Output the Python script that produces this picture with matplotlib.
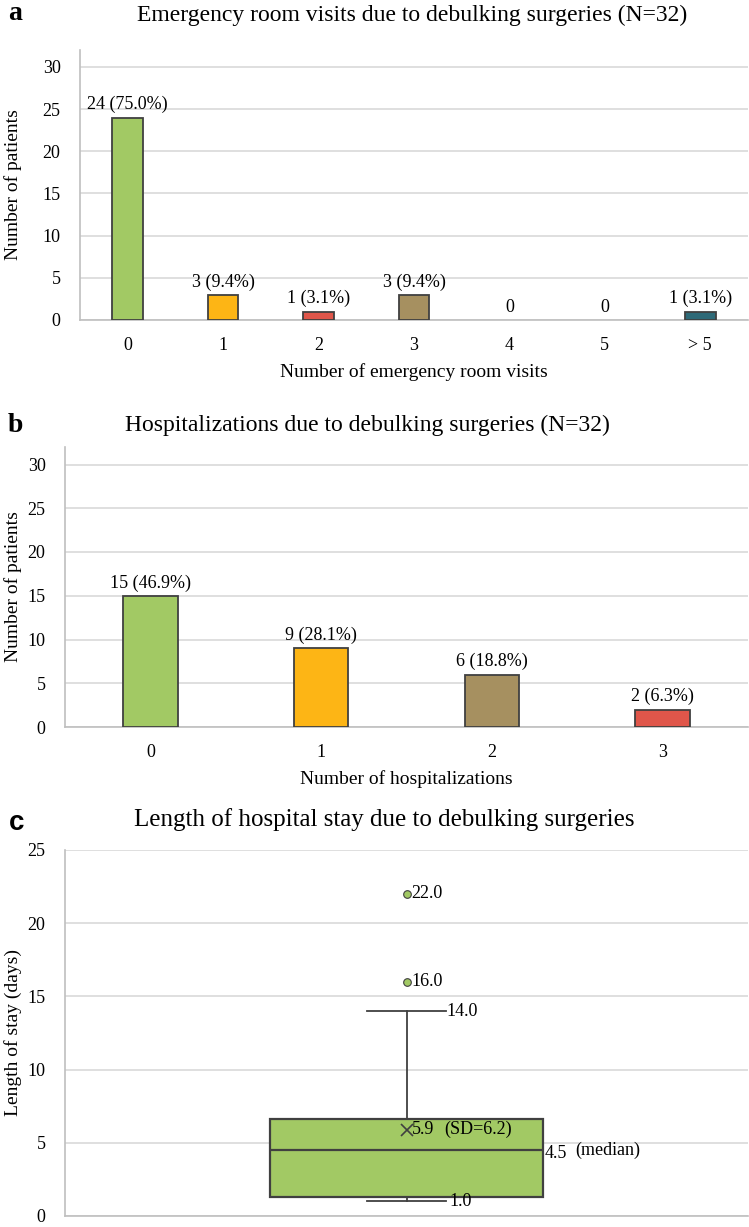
import numpy as np
import matplotlib
matplotlib.use("Agg")
import matplotlib.pyplot as plt

plt.rcParams['font.family'] = ['Liberation Serif', 'DejaVu Serif']

# Panel a: emergency room visits
er_visits = ['0', '1', '2', '3', '4', '5', '> 5']
er_patients = [24, 3, 1, 3, 0, 0, 1]
er_labels = ['24 (75.0%)', '3 (9.4%)', '1 (3.1%)', '3 (9.4%)', '0', '0', '1 (3.1%)']
er_colors = ['#A2C964', '#FDB515', '#E0564A', '#A69060', '#A69060', '#A69060', '#2E6A78']

# Panel b: hospitalizations
hosp_counts = ['0', '1', '2', '3']
hosp_patients = [15, 9, 6, 2]
hosp_labels = ['15 (46.9%)', '9 (28.1%)', '6 (18.8%)', '2 (6.3%)']
hosp_colors = ['#A2C964', '#FDB515', '#A69060', '#E0564A']

# Panel c: length of stay summary (days)
los_q1 = 1.28
los_median = 4.5
los_q3 = 6.65
los_mean = 5.9
los_sd = 6.2
los_whislo = 1.0
los_whishi = 14.0
los_fliers = [16.0, 22.0]

EDGE = '#404040'
GRID = '#D9D9D9'
SPINE = '#BFBFBF'


def style_axes(ax):
    for s in ['top', 'right']:
        ax.spines[s].set_visible(False)
    ax.spines['left'].set_color(SPINE)
    ax.spines['bottom'].set_color(SPINE)
    ax.spines['left'].set_linewidth(1.2)
    ax.spines['bottom'].set_linewidth(1.2)
    ax.yaxis.grid(True, color=GRID, linewidth=1.2)
    ax.set_axisbelow(True)
    ax.tick_params(axis='both', length=0, labelsize=13)
    ax.tick_params(axis='y', pad=14)
    ax.tick_params(axis='x', pad=12)


def bar_panel(ax, cats, vals, labels, colors):
    x = np.arange(len(cats))
    lw = [1.3 if v > 0 else 0 for v in vals]
    bars = ax.bar(x, vals, width=0.32, color=colors, edgecolor=EDGE,
                  linewidth=lw, zorder=3)
    for b, lab in zip(bars, labels):
        ax.annotate(lab, (b.get_x() + b.get_width() / 2, b.get_height()),
                    xytext=(0, 3), textcoords='offset points',
                    ha='center', va='bottom', fontsize=13)
    ax.set_xticks(x)
    ax.set_xticklabels(cats)
    ax.set_xlim(-0.5, len(cats) - 0.5)
    ax.set_ylim(0, 32)
    ax.set_yticks(range(0, 31, 5))
    style_axes(ax)


fig = plt.figure(figsize=(7.49, 12.27), dpi=100)

# a
ax1 = fig.add_axes([80 / 749, 1 - 320 / 1227, 668 / 749, 270 / 1227])
bar_panel(ax1, er_visits, er_patients, er_labels, er_colors)
ax1.set_xlabel("Number of emergency room visits", fontsize=14, labelpad=7)
ax1.set_ylabel("Number of patients", fontsize=14)
ax1.yaxis.set_label_coords(-58 / 668, 0.5)
fig.text(412 / 749, 1 - 15 / 1227,
         "Emergency room visits due to debulking surgeries (N=32)",
         ha='center', va='center', fontsize=17)
fig.text(15 / 749, 1 - 14 / 1227, "a", ha='center', va='center',
         fontsize=20, fontweight='bold')

# b
ax2 = fig.add_axes([65 / 749, 1 - 727 / 1227, 683 / 749, 280 / 1227])
bar_panel(ax2, hosp_counts, hosp_patients, hosp_labels, hosp_colors)
ax2.set_xlabel("Number of hospitalizations", fontsize=14, labelpad=7)
ax2.set_ylabel("Number of patients", fontsize=14)
ax2.yaxis.set_label_coords(-43 / 683, 0.5)
fig.text(367 / 749, 1 - 425 / 1227,
         "Hospitalizations due to debulking surgeries (N=32)",
         ha='center', va='center', fontsize=17)
fig.text(15 / 749, 1 - 425 / 1227, "b", ha='center', va='center',
         fontsize=20, fontweight='bold')

# c
ax3 = fig.add_axes([65 / 749, 1 - 1216 / 1227, 683 / 749, 366 / 1227])
stats = [dict(med=los_median, q1=los_q1, q3=los_q3, whislo=los_whislo,
              whishi=los_whishi, fliers=los_fliers, mean=los_mean)]
ax3.bxp(stats, positions=[0], widths=0.4, capwidths=0.117, showmeans=True,
        patch_artist=True, zorder=3,
        boxprops=dict(facecolor='#A2C964', edgecolor=EDGE, linewidth=1.6),
        medianprops=dict(color=EDGE, linewidth=1.6),
        whiskerprops=dict(color=EDGE, linewidth=1.3),
        capprops=dict(color=EDGE, linewidth=1.3),
        meanprops=dict(marker='x', markeredgecolor=EDGE, markersize=9,
                       markeredgewidth=1.2),
        flierprops=dict(marker='o', markerfacecolor='#A2C964',
                        markeredgecolor=EDGE, markersize=5.5,
                        markeredgewidth=0.8))
ax3.set_xlim(-0.5, 0.5)
ax3.set_ylim(0, 25)
ax3.set_yticks(range(0, 26, 5))
ax3.set_xticks([])
style_axes(ax3)
ax3.set_ylabel("Length of stay (days)", fontsize=14)
ax3.yaxis.set_label_coords(-43 / 683, 0.5)


def note(y, text, dx, dy=0):
    ax3.annotate(text, (0, y), xytext=(dx, dy), textcoords='offset pixels',
                 ha='left', va='center', fontsize=13)


for f in los_fliers:
    note(f, f"{f:.1f}", 5)
note(los_whishi, f"{los_whishi:.1f}", 40)
note(los_whislo, f"{los_whislo:.1f}", 43)
note(los_median, f"{los_median:.1f}", 138, -3)
note(los_median, "(median)", 169)
note(los_mean, f"{los_mean:.1f}", 5)
note(los_mean, f"(SD={los_sd:.1f})", 38)

fig.text(384 / 749, 1 - 820 / 1227,
         "Length of hospital stay due to debulking surgeries",
         ha='center', va='center', fontsize=18)
fig.text(17 / 749, 1 - 823 / 1227, "c", ha='center', va='center',
         fontsize=20, fontweight='bold', family='Liberation Sans')

fig.savefig("out.png", dpi=100)
